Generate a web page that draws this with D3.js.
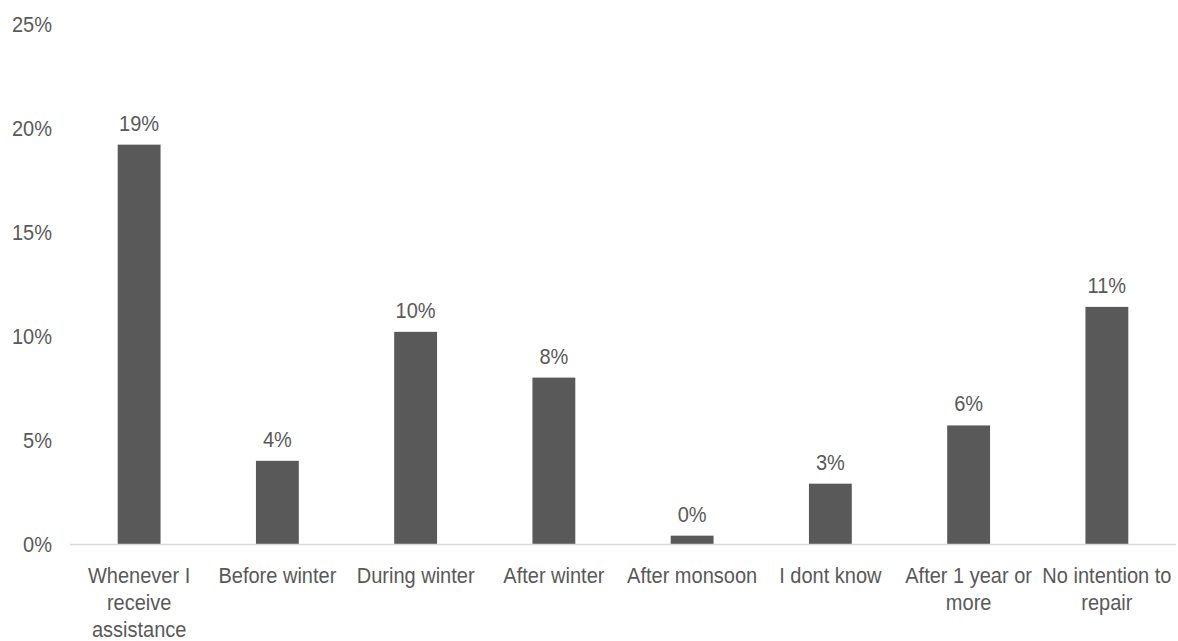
<!DOCTYPE html>
<html><head><meta charset="utf-8">
<script src="https://cdn.jsdelivr.net/npm/d3@7"></script>
<style>body{margin:0;background:#fff}svg{display:block}text{font-family:"Liberation Sans",Arial,sans-serif}</style>
</head><body>
<svg id="c" width="1178" height="641"></svg>
<script>
const categories = ["Whenever I receive assistance","Before winter","During winter","After winter","After monsoon","I dont know","After 1 year or more","No intention to repair"];
const categoryLines = [["Whenever I","receive","assistance"],["Before winter"],["During winter"],["After winter"],["After monsoon"],["I dont know"],["After 1 year or","more"],["No intention to","repair"]];
const values = [19.2, 4.0, 10.2, 8.0, 0.4, 2.9, 5.7, 11.4];
const valueLabels = ["19%","4%","10%","8%","0%","3%","6%","11%"];
const yTicks = [0,5,10,15,20,25];
const yTickLabels = ["0%","5%","10%","15%","20%","25%"];

const svg = d3.select("#c");
const x = d3.scaleBand().domain(categories).range([70,1176]).paddingInner(0.69).paddingOuter(0.345);
const y = d3.scaleLinear().domain([0,25]).range([544,24]);
const txt = "#595959";
const fs = 22, sx = 0.91;

// y labels
svg.append("g").selectAll("text").data(yTicks).join("text")
  .attr("transform",d=>`translate(52,${y(d)}) scale(${sx},1)`)
  .attr("dy","0.36em").attr("text-anchor","end")
  .attr("font-size",fs).attr("fill",txt).text((d,i)=>yTickLabels[i]);

// bars
svg.append("g").selectAll("rect").data(values).join("rect")
  .attr("x",(d,i)=>x(categories[i])).attr("width",x.bandwidth())
  .attr("y",d=>y(d)).attr("height",d=>y(0)-y(d)).attr("fill","#595959");

// baseline
svg.append("line").attr("x1",70).attr("x2",1176).attr("y1",y(0)+0.5).attr("y2",y(0)+0.5)
  .attr("stroke","#d9d9d9").attr("stroke-width",1.5);

// value labels
svg.append("g").selectAll("text").data(values).join("text")
  .attr("transform",(d,i)=>`translate(${x(categories[i])+x.bandwidth()/2},${y(d)-14}) scale(${sx},1)`)
  .attr("text-anchor","middle").attr("font-size",fs).attr("fill",txt)
  .text((d,i)=>valueLabels[i]);

// category labels
const cg = svg.append("g").selectAll("text").data(categories).join("text")
  .attr("text-anchor","middle").attr("font-size",fs).attr("fill",txt)
  .attr("transform",d=>`translate(${x(d)+x.bandwidth()/2},583) scale(${sx},1)`);
cg.each(function(d,i){
  d3.select(this).selectAll("tspan").data(categoryLines[i]).join("tspan")
    .attr("x",0).attr("y",(l,j)=>j*27).text(l=>l);
});
</script>
</body></html>
